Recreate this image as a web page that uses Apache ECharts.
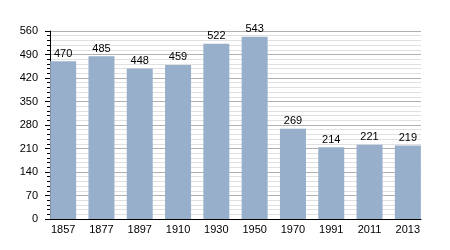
<!DOCTYPE html>
<html><head><meta charset="utf-8">
<script src="https://cdn.jsdelivr.net/npm/echarts@6/dist/echarts.min.js"></script>
<style>html,body{margin:0;padding:0;background:#fff}#c{width:450px;height:250px}</style>
</head><body><div id="c"></div>
<script>
const years = ['1857','1877','1897','1910','1930','1950','1970','1991','2011','2013'];
const population = [470,485,448,459,522,543,269,214,221,219];
const yTicks = [0,70,140,210,280,350,420,490,560];

const font = 'Liberation Sans, Arial';
const chart = echarts.init(document.getElementById('c'), null, {renderer:'canvas'});
chart.setOption({
  animation:false,
  grid:[
    {left:44,right:23,top:31,bottom:31},
    {left:50,right:29,top:31,bottom:31}
  ],
  xAxis:[
    {type:'category',data:years,gridIndex:0,
      axisLine:{show:false},axisTick:{show:false},
      axisLabel:{color:'#000',fontFamily:font,fontSize:11,margin:5}},
    {type:'value',gridIndex:1,min:0,max:1,
      axisLine:{show:true,onZero:false,lineStyle:{color:'#000',width:1}},
      axisTick:{show:false},axisLabel:{show:false},splitLine:{show:false}}
  ],
  yAxis:[
    {type:'value',gridIndex:0,min:yTicks[0],max:yTicks[yTicks.length-1],interval:70,show:false,splitLine:{show:false}},
    {type:'value',gridIndex:1,min:yTicks[0],max:yTicks[yTicks.length-1],interval:70,
      axisLine:{show:true,lineStyle:{color:'#000',width:1}},
      axisTick:{show:true,length:5,lineStyle:{color:'#000'}},
      minorTick:{show:true,splitNumber:5,length:3,lineStyle:{color:'#000'}},
      splitLine:{lineStyle:{color:'#b0b0b0',width:1}},
      minorSplitLine:{show:true,lineStyle:{color:'#e0e0e0',width:1}},
      axisLabel:{color:'#000',fontFamily:font,fontSize:11,margin:12}}
  ],
  series:[{type:'bar',data:population,barWidth:26,xAxisIndex:0,yAxisIndex:0,z:3,
    itemStyle:{color:'#97afcb'},
    label:{show:true,position:'top',color:'#000',fontFamily:font,fontSize:11,distance:2}}]
});
</script></body></html>
